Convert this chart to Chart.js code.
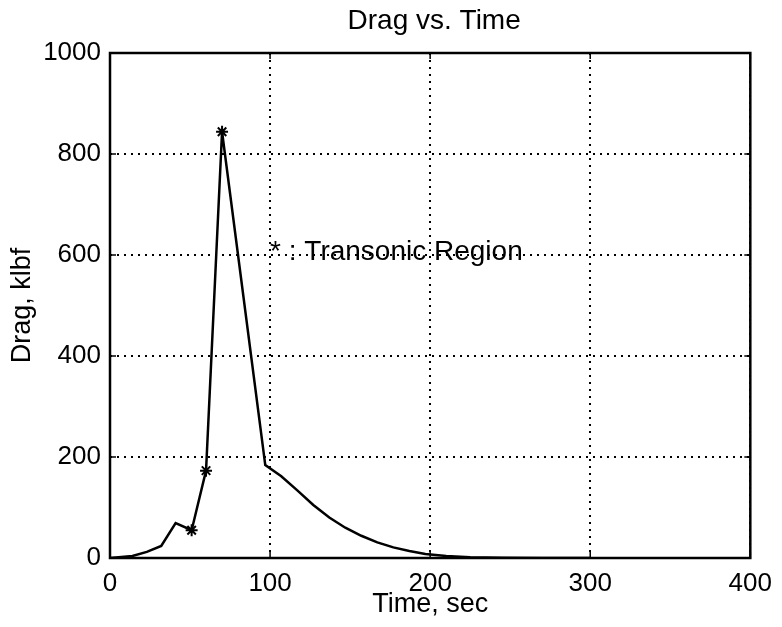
<!DOCTYPE html>
<html lang="en">
    <head>
        <meta charset="UTF-8">
        <title>Drag vs. Time</title>
        <script src="https://cdn.jsdelivr.net/npm/chart.js"></script>
        <style>
            html, body { margin: 0; padding: 0; background: #fff; }
            #box { width: 782px; height: 627px; }
        </style>
    </head>
    <body>
        <div id="box">
            <canvas id="grafico" width="782" height="627"></canvas>
        </div>
    </body>
</html>

<script>
    // Data
    const tempo = [0, 14, 23, 32, 41, 51, 60, 70, 97, 107, 117, 127, 137, 147, 157, 167, 177, 187, 197, 210, 225, 245, 270, 300];
    const arrasto = [0, 4, 12, 24, 69, 55, 173, 844, 184, 162, 134, 105, 80, 60, 44, 31, 21, 14, 8, 4, 1.5, 0.5, 0.2, 0];
    const transonico = [5, 6, 7]; // indices marked with *
    const ticksX = [0, 100, 200, 300, 400];
    const ticksY = [0, 200, 400, 600, 800, 1000];

    const fonte = '"Liberation Sans", Arial, Helvetica, sans-serif';

    const pontos = tempo.map((t, i) => ({ x: t, y: arrasto[i] }));
    const marcados = transonico.map(i => ({ x: tempo[i], y: arrasto[i] }));

    // title over the plot box, frame, inward ticks and the text note
    const moldura = {
        id: 'moldura',
        afterDatasetsDraw(chart) {
            const { ctx, chartArea: a, scales } = chart;
            ctx.save();
            ctx.strokeStyle = '#000';
            ctx.lineWidth = 2.5;
            ctx.strokeRect(a.left, a.top, a.right - a.left, a.bottom - a.top);
            ctx.lineWidth = 1.5;
            ctx.beginPath();
            ticksX.forEach(v => {
                const px = scales.x.getPixelForValue(v);
                ctx.moveTo(px, a.bottom); ctx.lineTo(px, a.bottom - 6);
                ctx.moveTo(px, a.top); ctx.lineTo(px, a.top + 6);
            });
            ticksY.forEach(v => {
                const py = scales.y.getPixelForValue(v);
                ctx.moveTo(a.left, py); ctx.lineTo(a.left + 6, py);
                ctx.moveTo(a.right, py); ctx.lineTo(a.right - 6, py);
            });
            ctx.stroke();
            ctx.fillStyle = '#000';
            ctx.textBaseline = 'middle';
            ctx.textAlign = 'center';
            ctx.font = '28px ' + fonte;
            ctx.fillText('Drag vs. Time', (a.left + a.right) / 2 + 4, 21);
            ctx.textAlign = 'left';
            ctx.fillText('* : Transonic Region', scales.x.getPixelForValue(100), scales.y.getPixelForValue(605));
            ctx.restore();
        }
    };

    const grade = {
        color: '#000',
        lineWidth: 2,
        drawTicks: false
    };
    const borda = { display: false, dash: [2, 5] };

    new Chart(document.getElementById('grafico'), {
        type: 'line',
        data: {
            datasets: [{
                data: pontos,
                borderColor: '#000',
                borderWidth: 2.5,
                pointRadius: 0,
                tension: 0
            }, {
                data: marcados,
                showLine: false,
                pointStyle: 'star',
                pointRadius: 6,
                borderColor: '#000',
                borderWidth: 2,
                backgroundColor: '#000'
            }]
        },
        options: {
            responsive: false,
            animation: false,
            layout: { padding: { top: 53, right: 29 } },
            plugins: {
                legend: { display: false },
                tooltip: { enabled: false },
                title: { display: false }
            },
            scales: {
                x: {
                    type: 'linear',
                    min: 0,
                    max: 400,
                    afterFit: s => { s.height = 69; },
                    afterBuildTicks: s => { s.ticks = ticksX.map(v => ({ value: v })); },
                    grid: grade,
                    border: borda,
                    ticks: { color: '#000', padding: 10, maxRotation: 0, font: { family: fonte, size: 26 }, callback: v => String(v) },
                    title: {
                        display: true,
                        text: 'Time, sec',
                        color: '#000',
                        font: { family: fonte, size: 27 },
                        padding: { top: 0, bottom: 6 }
                    }
                },
                y: {
                    min: 0,
                    max: 1000,
                    afterFit: s => { s.width = 110; },
                    afterBuildTicks: s => { s.ticks = ticksY.map(v => ({ value: v })); },
                    grid: grade,
                    border: borda,
                    ticks: { color: '#000', padding: 9, font: { family: fonte, size: 26 }, callback: v => String(v) },
                    title: {
                        display: true,
                        text: 'Drag, klbf',
                        color: '#000',
                        font: { family: fonte, size: 27 },
                        padding: { top: 6, bottom: 0 }
                    }
                }
            }
        },
        plugins: [moldura]
    });
</script>
